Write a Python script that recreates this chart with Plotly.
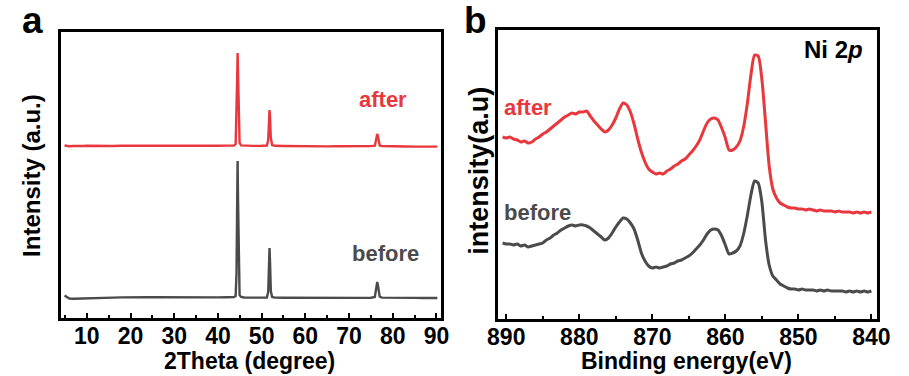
import plotly.graph_objects as go

# ---------------- data: panel a (XRD) ----------------
xrd_theta = [4.9, 5.5, 6, 7, 8, 9, 10, 12, 14, 16, 18, 20, 22, 24, 26, 28, 30, 32, 34, 36, 38, 40, 42,
             43.7, 44.05, 44.25, 44.4, 44.5, 44.6, 44.75, 44.95, 45.3, 46, 48, 50,
             51.2, 51.5, 51.68, 51.8, 51.92, 52.1, 52.4, 53, 55, 57, 59, 61, 63, 65, 67, 69, 71, 73, 75,
             75.9, 76.15, 76.3, 76.45, 76.6, 76.75, 77.0, 77.5, 79, 81, 83, 85, 87, 89, 90.2]
xrd_before = [22.5, 20.5, 19.5, 19.2, 19.4, 19.6, 19.8, 20.0, 20.2, 20.4, 20.6, 20.9, 21.0, 20.8, 20.7,
              20.6, 20.5, 20.4, 20.6, 20.5, 20.4, 20.6, 20.8,
              21.0, 22, 45, 115, 157, 118, 45, 23, 21, 20.5, 20.4, 20.3,
              20.5, 26, 55, 70, 56, 27, 21, 20.4, 20.3, 20.2, 20.4, 20.3, 20.1, 20.2, 20.0, 20.1, 20.0, 20.1, 20.3,
              21, 28, 35, 36, 33, 26, 21.5, 20.4, 20.2, 20.1, 20.0, 20.1, 20.0, 20.1, 20.0]
xrd_after = [172.5, 172, 171.8, 172, 171.7, 172, 172.2, 171.9, 172.1, 172, 172.3, 172.2, 172, 172.4, 172.1,
             172.3, 172, 172.2, 172.4, 172.1, 172.3, 172.2, 172.4,
             172.5, 174, 200, 240, 265, 242, 200, 175, 172.6, 172.3, 172.1, 172.2,
             172.4, 178, 200, 208, 201, 180, 173, 172.2, 172, 171.8, 172, 171.7, 171.9, 171.6, 171.8, 171.7,
             171.5, 171.8, 171.9,
             172.3, 177, 183, 184, 182, 176, 172.5, 172, 171.7, 171.6, 171.5, 171.4, 171.6, 171.3, 171.4]

# ---------------- data: panel b (XPS Ni 2p) ----------------
xps_energy = [890.5, 890, 889.5, 889, 888.5, 888, 887.5, 887, 886.5, 886, 885.5, 885, 884.5, 884, 883.5,
              883, 882.5, 882, 881.5, 881, 880.5, 880, 879.5, 879, 878.5, 878, 877.5, 877, 876.5, 876,
              875.5, 875, 874.5, 874, 873.5, 873, 872.5, 872, 871.5, 871, 870.5, 870, 869.5, 869, 868.5,
              868, 867.5, 867, 866.5, 866, 865.5, 865, 864.5, 864, 863.5, 863, 862.5, 862, 861.5, 861,
              860.5, 860, 859.5, 859, 858.5, 858, 857.5, 857, 856.5, 856, 855.5, 855, 854.5, 854, 853.5,
              853, 852.5, 852, 851.5, 851, 850.5, 850, 849.5, 849, 848.5, 848, 847.5, 847, 846.5, 846,
              845.5, 845, 844.5, 844, 843.5, 843, 842.5, 842, 841.5, 841, 840.5, 840]
xps_after = [182, 181, 182, 180, 179, 177, 178, 176, 177, 180, 182, 185, 187, 190, 193,
             196, 199, 202, 204, 206, 205, 207, 207, 208, 203, 198, 194, 190, 187, 189,
             194, 201, 210, 216, 214, 207, 195, 180, 167, 157, 150, 147, 145, 146, 145,
             148, 150, 153, 155, 158, 160, 164, 168, 173, 179, 188, 196, 200, 201, 199,
             191, 181, 169, 169, 172, 178, 192, 215, 244, 264, 263, 240, 197, 153, 130,
             121, 116, 114, 112, 111, 111, 110, 110, 109, 110, 109, 108, 109, 108, 108,
             108, 107, 108, 107, 107, 107, 106, 107, 106, 107, 106, 107]
xps_before = [76, 75, 75, 74, 75, 73, 74, 72, 73, 74, 75, 76, 79, 81, 84,
              86, 89, 91, 93, 94, 93, 94, 94, 93, 91, 88, 85, 82, 79, 81,
              86, 92, 97, 101, 100, 96, 90, 79, 66, 58, 53, 51, 52, 51, 52,
              53, 55, 56, 58, 59, 61, 63, 66, 70, 74, 79, 85, 89, 90, 89,
              83, 74, 65, 66, 68, 73, 85, 103, 124, 138, 136, 117, 79, 54, 43,
              39, 35, 33, 31, 30, 30, 29, 30, 29, 29, 29, 28, 29, 28, 29,
              28, 28, 28, 28, 27, 28, 27, 28, 27, 28, 27, 28]

xrd_ticks = [10, 20, 30, 40, 50, 60, 70, 80, 90]
xps_ticks = [890, 880, 870, 860, 850, 840]

RED = "#e8383d"
GRAY = "#4b4b4b"
FONT = "Liberation Sans, Arial, sans-serif"
W, H = 909, 376


def px(x):
    return x / W


def py(y):
    return 1 - y / H


fig = go.Figure()
fig.add_trace(go.Scatter(x=xrd_theta, y=xrd_after, mode="lines", line=dict(color=RED, width=2.4),
                         xaxis="x", yaxis="y", showlegend=False))
fig.add_trace(go.Scatter(x=xrd_theta, y=xrd_before, mode="lines", line=dict(color=GRAY, width=2.4),
                         xaxis="x", yaxis="y", showlegend=False))
fig.add_trace(go.Scatter(x=xps_energy, y=xps_after, mode="lines",
                         line=dict(color=RED, width=3, shape="spline", smoothing=0.6),
                         xaxis="x2", yaxis="y2", showlegend=False))
fig.add_trace(go.Scatter(x=xps_energy, y=xps_before, mode="lines",
                         line=dict(color=GRAY, width=3, shape="spline", smoothing=0.6),
                         xaxis="x2", yaxis="y2", showlegend=False))

tickfont = dict(family=FONT, size=23, color="black", weight="bold")
common_x = dict(showline=True, linecolor="black", linewidth=2.6, mirror=True, showgrid=False,
                zeroline=False, ticks="inside", ticklen=5, tickwidth=2, tickcolor="black",
                tickfont=tickfont, ticklabelstandoff=-4)
common_y = dict(showline=True, linecolor="black", linewidth=2.6, mirror=True, showgrid=False,
                zeroline=False, ticks="", showticklabels=False)

fig.update_layout(
    width=W, height=H, margin=dict(l=0, r=0, t=0, b=0),
    paper_bgcolor="white", plot_bgcolor="white",
    xaxis=dict(domain=[px(51), px(442)], range=[4, 91], tickvals=xrd_ticks, anchor="y",
               minor=dict(dtick=5, tick0=0, ticks="inside", ticklen=3, tickwidth=2, tickcolor="black"),
               **common_x),
    yaxis=dict(domain=[py(318), py(32)], range=[0, 286], anchor="x", **common_y),
    xaxis2=dict(domain=[px(501), px(890)], range=[891.1, 839.3], tickvals=xps_ticks, anchor="y2",
                minor=dict(dtick=5, tick0=0, ticks="inside", ticklen=3, tickwidth=2, tickcolor="black"),
                **common_x),
    yaxis2=dict(domain=[py(319), py(30)], range=[0, 289], anchor="x2", **common_y),
)


def label(text, x, y, size, color="black", angle=0, xanchor="center"):
    fig.add_annotation(text=text, x=px(x), y=py(y), xref="paper", yref="paper",
                       xanchor=xanchor, yanchor="middle", showarrow=False, textangle=angle,
                       font=dict(family=FONT, size=size, color=color, weight="bold"))


label("a", 22, 20, 37)
label("b", 478, 20, 37)
label("after", 383, 99.3, 22, RED)
label("before", 385, 253.3, 22, GRAY)
label("after", 532, 107.3, 22, RED)
label("before", 541, 212.3, 22, GRAY)
label("Ni 2<i>p</i>", 846, 49.6, 24)
label("2Theta (degree)", 245, 360.5, 23)
label("Binding energy(eV)", 695, 361, 23)
label("Intensity (a.u.)", 20.5, 175, 24, angle=-90)
label("intensity(a.u)", 481, 171, 27, angle=-90)

fig.write_html("out.html")
